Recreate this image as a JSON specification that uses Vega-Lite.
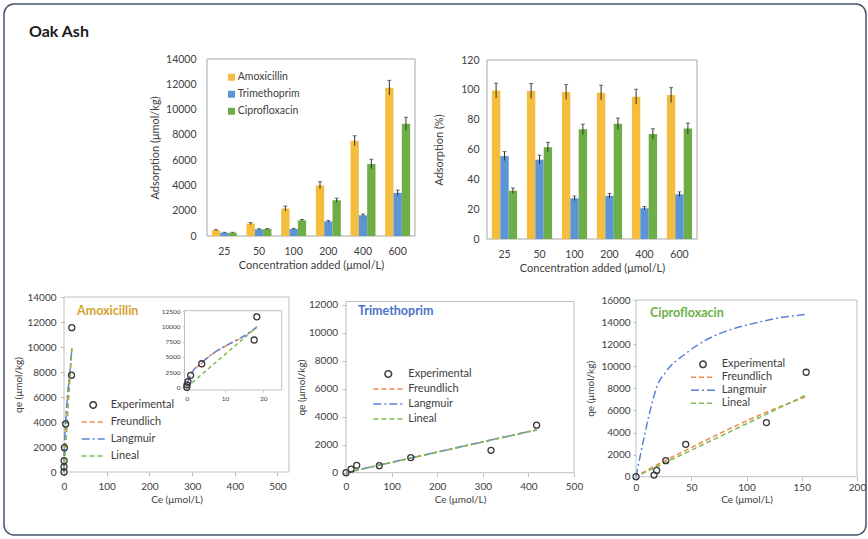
{
  "$schema": "https://vega.github.io/schema/vega-lite/v6.json",
  "width": 862,
  "height": 531,
  "autosize": "none",
  "padding": {"left": 4, "top": 4, "right": 2, "bottom": 4},
  "background": "white",
  "title": {"text": "Oak Ash", "anchor": "start", "frame": "group", "offset": -49, "dx": 25, "fontSize": 16, "fontWeight": "bold", "font": "Lato", "color": "#1a1a1a", "baseline": "alphabetic"},
  "config": {
    "font": "Lato",
    "view": {"stroke": "#46526e", "strokeWidth": 1.5, "cornerRadius": 10, "fill": "white"},
    "axis": {"labelColor": "#404040", "titleColor": "#404040", "labelFont": "Lato", "titleFont": "Lato", "titleFontWeight": "normal", "grid": false, "labelFlush": false, "labelOverlap": false, "labelBound": false, "tickColor": "#bfbfbf", "domain": false, "format": "d"},
    "legend": {"labelFont": "Lato", "labelColor": "#404040"},
    "text": {"font": "Lato"}
  },
  "datasets": {
    "abs": [
      {"cat": "25", "series": "Amoxicillin", "value": 450, "lo": 400, "hi": 500},
      {"cat": "25", "series": "Trimethoprim", "value": 260, "lo": 230, "hi": 290},
      {"cat": "25", "series": "Ciprofloxacin", "value": 260, "lo": 230, "hi": 290},
      {"cat": "50", "series": "Amoxicillin", "value": 980, "lo": 900, "hi": 1060},
      {"cat": "50", "series": "Trimethoprim", "value": 530, "lo": 490, "hi": 570},
      {"cat": "50", "series": "Ciprofloxacin", "value": 550, "lo": 510, "hi": 590},
      {"cat": "100", "series": "Amoxicillin", "value": 2170, "lo": 1970, "hi": 2370},
      {"cat": "100", "series": "Trimethoprim", "value": 550, "lo": 500, "hi": 600},
      {"cat": "100", "series": "Ciprofloxacin", "value": 1240, "lo": 1170, "hi": 1310},
      {"cat": "200", "series": "Amoxicillin", "value": 4010, "lo": 3730, "hi": 4290},
      {"cat": "200", "series": "Trimethoprim", "value": 1160, "lo": 1090, "hi": 1230},
      {"cat": "200", "series": "Ciprofloxacin", "value": 2830, "lo": 2670, "hi": 2990},
      {"cat": "400", "series": "Amoxicillin", "value": 7530, "lo": 7130, "hi": 7930},
      {"cat": "400", "series": "Trimethoprim", "value": 1640, "lo": 1540, "hi": 1740},
      {"cat": "400", "series": "Ciprofloxacin", "value": 5700, "lo": 5330, "hi": 6070},
      {"cat": "600", "series": "Amoxicillin", "value": 11730, "lo": 11150, "hi": 12310},
      {"cat": "600", "series": "Trimethoprim", "value": 3410, "lo": 3190, "hi": 3630},
      {"cat": "600", "series": "Ciprofloxacin", "value": 8870, "lo": 8350, "hi": 9390}
    ],
    "pct": [
      {"cat": "25", "series": "Amoxicillin", "value": 99.5, "lo": 94.5, "hi": 104.5},
      {"cat": "25", "series": "Trimethoprim", "value": 55.6, "lo": 52.6, "hi": 58.6},
      {"cat": "25", "series": "Ciprofloxacin", "value": 32.4, "lo": 30.6, "hi": 34.2},
      {"cat": "50", "series": "Amoxicillin", "value": 99.2, "lo": 94.2, "hi": 104.2},
      {"cat": "50", "series": "Trimethoprim", "value": 53.2, "lo": 50.2, "hi": 56.2},
      {"cat": "50", "series": "Ciprofloxacin", "value": 61.5, "lo": 58.2, "hi": 64.8},
      {"cat": "100", "series": "Amoxicillin", "value": 98.5, "lo": 93.5, "hi": 103.5},
      {"cat": "100", "series": "Trimethoprim", "value": 27.3, "lo": 25.8, "hi": 28.8},
      {"cat": "100", "series": "Ciprofloxacin", "value": 73.5, "lo": 70, "hi": 77},
      {"cat": "200", "series": "Amoxicillin", "value": 98.1, "lo": 93.1, "hi": 103.1},
      {"cat": "200", "series": "Trimethoprim", "value": 29, "lo": 27.4, "hi": 30.6},
      {"cat": "200", "series": "Ciprofloxacin", "value": 77.3, "lo": 73.5, "hi": 81.1},
      {"cat": "400", "series": "Amoxicillin", "value": 95.4, "lo": 90.4, "hi": 100.4},
      {"cat": "400", "series": "Trimethoprim", "value": 20.6, "lo": 19.5, "hi": 21.7},
      {"cat": "400", "series": "Ciprofloxacin", "value": 70.4, "lo": 66.9, "hi": 73.9},
      {"cat": "600", "series": "Amoxicillin", "value": 96.5, "lo": 91.5, "hi": 101.5},
      {"cat": "600", "series": "Trimethoprim", "value": 30, "lo": 28.4, "hi": 31.6},
      {"cat": "600", "series": "Ciprofloxacin", "value": 74, "lo": 70.3, "hi": 77.7}
    ],
    "amoxExp": [
      {"series": "Experimental", "Ce": 0, "qe": 0},
      {"series": "Experimental", "Ce": 0.05, "qe": 400},
      {"series": "Experimental", "Ce": 0.3, "qe": 900},
      {"series": "Experimental", "Ce": 1.0, "qe": 1950},
      {"series": "Experimental", "Ce": 3.9, "qe": 3850},
      {"series": "Experimental", "Ce": 17.6, "qe": 7750},
      {"series": "Experimental", "Ce": 18.3, "qe": 11550}
    ],
    "amoxFit": [
      {"series": "Freundlich", "Ce": 0, "qe": 0},
      {"series": "Freundlich", "Ce": 0.05, "qe": 420},
      {"series": "Freundlich", "Ce": 0.3, "qe": 950},
      {"series": "Freundlich", "Ce": 1.0, "qe": 1980},
      {"series": "Freundlich", "Ce": 3.9, "qe": 3950},
      {"series": "Freundlich", "Ce": 17.6, "qe": 9500},
      {"series": "Freundlich", "Ce": 18.3, "qe": 9850},
      {"series": "Langmuir", "Ce": 0, "qe": 0},
      {"series": "Langmuir", "Ce": 0.05, "qe": 300},
      {"series": "Langmuir", "Ce": 0.3, "qe": 900},
      {"series": "Langmuir", "Ce": 1.0, "qe": 2050},
      {"series": "Langmuir", "Ce": 3.9, "qe": 4000},
      {"series": "Langmuir", "Ce": 17.6, "qe": 9550},
      {"series": "Langmuir", "Ce": 18.3, "qe": 9900},
      {"series": "Lineal", "Ce": 0, "qe": 0},
      {"series": "Lineal", "Ce": 0.3, "qe": 160},
      {"series": "Lineal", "Ce": 1.0, "qe": 540},
      {"series": "Lineal", "Ce": 3.9, "qe": 2100},
      {"series": "Lineal", "Ce": 17.6, "qe": 9500},
      {"series": "Lineal", "Ce": 18.3, "qe": 9880}
    ],
    "trimExp": [
      {"series": "Experimental", "Ce": 0, "qe": 0},
      {"series": "Experimental", "Ce": 11.1, "qe": 250},
      {"series": "Experimental", "Ce": 23.5, "qe": 530},
      {"series": "Experimental", "Ce": 73, "qe": 500},
      {"series": "Experimental", "Ce": 142, "qe": 1080},
      {"series": "Experimental", "Ce": 318, "qe": 1600},
      {"series": "Experimental", "Ce": 418, "qe": 3400}
    ],
    "trimFit": [
      {"series": "Freundlich", "Ce": 0, "qe": 0},
      {"series": "Freundlich", "Ce": 11.1, "qe": 80},
      {"series": "Freundlich", "Ce": 23.5, "qe": 170},
      {"series": "Freundlich", "Ce": 73, "qe": 540},
      {"series": "Freundlich", "Ce": 142, "qe": 1050},
      {"series": "Freundlich", "Ce": 318, "qe": 2340},
      {"series": "Freundlich", "Ce": 418, "qe": 3070},
      {"series": "Langmuir", "Ce": 0, "qe": 0},
      {"series": "Langmuir", "Ce": 11.1, "qe": 85},
      {"series": "Langmuir", "Ce": 23.5, "qe": 178},
      {"series": "Langmuir", "Ce": 73, "qe": 545},
      {"series": "Langmuir", "Ce": 142, "qe": 1055},
      {"series": "Langmuir", "Ce": 318, "qe": 2345},
      {"series": "Langmuir", "Ce": 418, "qe": 3060},
      {"series": "Lineal", "Ce": 0, "qe": 0},
      {"series": "Lineal", "Ce": 11.1, "qe": 81},
      {"series": "Lineal", "Ce": 23.5, "qe": 172},
      {"series": "Lineal", "Ce": 73, "qe": 532},
      {"series": "Lineal", "Ce": 142, "qe": 1040},
      {"series": "Lineal", "Ce": 318, "qe": 2330},
      {"series": "Lineal", "Ce": 418, "qe": 3060}
    ],
    "cipExp": [
      {"series": "Experimental", "Ce": 0, "qe": 0},
      {"series": "Experimental", "Ce": 16.3, "qe": 150},
      {"series": "Experimental", "Ce": 18.7, "qe": 570},
      {"series": "Experimental", "Ce": 27, "qe": 1450},
      {"series": "Experimental", "Ce": 45, "qe": 2930},
      {"series": "Experimental", "Ce": 118, "qe": 4900},
      {"series": "Experimental", "Ce": 154, "qe": 9460}
    ],
    "cipFit": [
      {"series": "Freundlich", "Ce": 5, "qe": 310},
      {"series": "Freundlich", "Ce": 16.3, "qe": 930},
      {"series": "Freundlich", "Ce": 18.7, "qe": 1060},
      {"series": "Freundlich", "Ce": 27, "qe": 1490},
      {"series": "Freundlich", "Ce": 45, "qe": 2390},
      {"series": "Freundlich", "Ce": 118, "qe": 5840},
      {"series": "Freundlich", "Ce": 154, "qe": 7250},
      {"series": "Langmuir", "Ce": 0, "qe": 0},
      {"series": "Langmuir", "Ce": 16.3, "qe": 7300},
      {"series": "Langmuir", "Ce": 18.7, "qe": 8100},
      {"series": "Langmuir", "Ce": 27, "qe": 9500},
      {"series": "Langmuir", "Ce": 45, "qe": 11150},
      {"series": "Langmuir", "Ce": 118, "qe": 14150},
      {"series": "Langmuir", "Ce": 154, "qe": 14700},
      {"series": "Lineal", "Ce": 5, "qe": 240},
      {"series": "Lineal", "Ce": 16.3, "qe": 780},
      {"series": "Lineal", "Ce": 18.7, "qe": 900},
      {"series": "Lineal", "Ce": 27, "qe": 1300},
      {"series": "Lineal", "Ce": 45, "qe": 2160},
      {"series": "Lineal", "Ce": 118, "qe": 5660},
      {"series": "Lineal", "Ce": 154, "qe": 7400}
    ]
  },
  "layer": [
    {
      "data": {"values": [{}]},
      "mark": {"type": "rect", "fill": "transparent", "stroke": "#a6a6a6", "strokeWidth": 1},
      "encoding": {
        "x": {"datum": 0, "type": "quantitative", "scale": {"domain": [0, 1], "range": [203, 411]}, "axis": null},
        "x2": {"datum": 1},
        "y": {"datum": 0, "type": "quantitative", "scale": {"domain": [0, 1], "range": [232, 55]}, "axis": null},
        "y2": {"datum": 1}
      }
    },
    {
      "data": {"values": [{}]},
      "mark": {"type": "rect", "fill": "transparent", "stroke": "#a6a6a6", "strokeWidth": 1},
      "encoding": {
        "x": {"datum": 0, "type": "quantitative", "scale": {"domain": [0, 1], "range": [483, 693]}, "axis": null},
        "x2": {"datum": 1},
        "y": {"datum": 0, "type": "quantitative", "scale": {"domain": [0, 1], "range": [235, 56]}, "axis": null},
        "y2": {"datum": 1}
      }
    },
    {
      "data": {"values": [{}]},
      "mark": {"type": "rect", "fill": "transparent", "stroke": "#bfbfbf", "strokeWidth": 1},
      "encoding": {
        "x": {"datum": 0, "type": "quantitative", "scale": {"domain": [0, 1], "range": [60, 285]}, "axis": null},
        "x2": {"datum": 1},
        "y": {"datum": 0, "type": "quantitative", "scale": {"domain": [0, 1], "range": [468, 293]}, "axis": null},
        "y2": {"datum": 1}
      }
    },
    {
      "data": {"values": [{}]},
      "mark": {"type": "rect", "fill": "white", "stroke": "#bfbfbf", "strokeWidth": 1},
      "encoding": {
        "x": {"datum": 0, "type": "quantitative", "scale": {"domain": [0, 1], "range": [180.5, 277.7]}, "axis": null},
        "x2": {"datum": 1},
        "y": {"datum": 0, "type": "quantitative", "scale": {"domain": [0, 1], "range": [386, 306.7]}, "axis": null},
        "y2": {"datum": 1}
      }
    },
    {
      "data": {"values": [{}]},
      "mark": {"type": "rect", "fill": "transparent", "stroke": "#bfbfbf", "strokeWidth": 1},
      "encoding": {
        "x": {"datum": 0, "type": "quantitative", "scale": {"domain": [0, 1], "range": [342, 570]}, "axis": null},
        "x2": {"datum": 1},
        "y": {"datum": 0, "type": "quantitative", "scale": {"domain": [0, 1], "range": [468.7, 297.5]}, "axis": null},
        "y2": {"datum": 1}
      }
    },
    {
      "data": {"values": [{}]},
      "mark": {"type": "rect", "fill": "transparent", "stroke": "#bfbfbf", "strokeWidth": 1},
      "encoding": {
        "x": {"datum": 0, "type": "quantitative", "scale": {"domain": [0, 1], "range": [632, 853]}, "axis": null},
        "x2": {"datum": 1},
        "y": {"datum": 0, "type": "quantitative", "scale": {"domain": [0, 1], "range": [472.7, 296]}, "axis": null},
        "y2": {"datum": 1}
      }
    },
    {
      "data": {"values": [{"label": "Amoxicillin"}]},
      "mark": {"type": "text", "align": "left", "baseline": "middle", "fontSize": 12.5, "fontWeight": "bold", "color": "#D4A22E"},
      "encoding": {
        "x": {"datum": 30.5, "type": "quantitative", "scale": {"domain": [0, 527], "range": [60, 285]}, "axis": null},
        "y": {"datum": 12880, "type": "quantitative", "scale": {"domain": [0, 14000], "range": [468, 293]}, "axis": null},
        "text": {"field": "label"}
      }
    },
    {
      "data": {"values": [{"label": "Trimethoprim"}]},
      "mark": {"type": "text", "align": "left", "baseline": "middle", "fontSize": 12.5, "fontWeight": "bold", "color": "#4B73C9"},
      "encoding": {
        "x": {"datum": 26.3, "type": "quantitative", "scale": {"domain": [0, 500], "range": [342, 570]}, "axis": null},
        "y": {"datum": 11570, "type": "quantitative", "scale": {"domain": [0, 12250], "range": [468.7, 297.5]}, "axis": null},
        "text": {"field": "label"}
      }
    },
    {
      "data": {"values": [{"label": "Ciprofloxacin"}]},
      "mark": {"type": "text", "align": "left", "baseline": "middle", "fontSize": 12.5, "fontWeight": "bold", "color": "#6DAF48"},
      "encoding": {
        "x": {"datum": 12.7, "type": "quantitative", "scale": {"domain": [0, 200], "range": [632, 853]}, "axis": null},
        "y": {"datum": 14823, "type": "quantitative", "scale": {"domain": [0, 16000], "range": [472.7, 296]}, "axis": null},
        "text": {"field": "label"}
      }
    },
    {
      "data": {"name": "abs"},
      "encoding": {
        "x": {"field": "cat", "type": "nominal", "scale": {"domain": ["25", "50", "100", "200", "400", "600"], "range": [203, 411], "paddingInner": 0.28, "paddingOuter": 0.14},
          "axis": {"orient": "bottom", "offset": -299, "title": "Concentration added (μmol/L)", "ticks": false, "labelPadding": 10, "labelAngle": 0, "labelFontSize": 10.5, "titleFontSize": 11, "titlePadding": 3}},
        "xOffset": {"field": "series", "type": "nominal", "scale": {"domain": ["Amoxicillin", "Trimethoprim", "Ciprofloxacin"], "paddingInner": 0, "paddingOuter": 0}}
      },
      "layer": [
        {
          "mark": {"type": "bar"},
          "encoding": {
            "y": {"field": "value", "type": "quantitative", "scale": {"domain": [0, 14000], "range": [232, 55], "nice": false, "zero": false},
              "axis": {"orient": "left", "offset": -203, "values": [0, 2000, 4000, 6000, 8000, 10000, 12000, 14000], "title": "Adsorption (μmol/kg)", "ticks": false, "labelPadding": 11, "labelFontSize": 10.5, "titleFontSize": 11, "titlePadding": 5}},
            "color": {"field": "series", "type": "nominal", "scale": {"domain": ["Amoxicillin", "Trimethoprim", "Ciprofloxacin"], "range": ["#F5BD3D", "#5B95D6", "#6DAE46"]},
              "legend": {"orient": "none", "legendX": 222.25, "legendY": 64.8, "title": null, "symbolType": "square", "symbolSize": 49, "symbolStrokeWidth": 0, "clipHeight": 17, "rowPadding": 0, "labelOffset": 1, "labelFontSize": 10.5, "padding": 0}}
          }
        },
        {
          "mark": {"type": "rule", "color": "#333333", "strokeWidth": 1},
          "encoding": {"y": {"field": "lo", "type": "quantitative",
              "axis": {"orient": "left", "offset": -203, "values": [0, 2000, 4000, 6000, 8000, 10000, 12000, 14000], "title": "Adsorption (μmol/kg)", "ticks": false, "labelPadding": 11, "labelFontSize": 10.5, "titleFontSize": 11, "titlePadding": 5}},
            "y2": {"field": "hi"}}
        },
        {
          "mark": {"type": "tick", "color": "#333333", "size": 4, "thickness": 1},
          "encoding": {"y": {"field": "hi", "type": "quantitative",
              "axis": {"orient": "left", "offset": -203, "values": [0, 2000, 4000, 6000, 8000, 10000, 12000, 14000], "title": "Adsorption (μmol/kg)", "ticks": false, "labelPadding": 11, "labelFontSize": 10.5, "titleFontSize": 11, "titlePadding": 5}}}
        }
      ]
    },
    {
      "data": {"name": "pct"},
      "encoding": {
        "x": {"field": "cat", "type": "nominal", "scale": {"domain": ["25", "50", "100", "200", "400", "600"], "range": [483, 693], "paddingInner": 0.28, "paddingOuter": 0.14},
          "axis": {"orient": "bottom", "offset": -296, "title": "Concentration added (μmol/L)", "ticks": false, "labelPadding": 10, "labelAngle": 0, "labelFontSize": 10.5, "titleFontSize": 11, "titlePadding": 3}},
        "xOffset": {"field": "series", "type": "nominal", "scale": {"domain": ["Amoxicillin", "Trimethoprim", "Ciprofloxacin"], "paddingInner": 0, "paddingOuter": 0}}
      },
      "layer": [
        {
          "mark": {"type": "bar"},
          "encoding": {
            "y": {"field": "value", "type": "quantitative", "scale": {"domain": [0, 120], "range": [235, 56], "nice": false, "zero": false},
              "axis": {"orient": "left", "offset": -483, "values": [0, 20, 40, 60, 80, 100, 120], "title": "Adsorption (%)", "ticks": false, "labelPadding": 8, "labelFontSize": 10.5, "titleFontSize": 11, "titlePadding": 16}},
            "color": {"field": "series", "type": "nominal", "scale": {"domain": ["Amoxicillin", "Trimethoprim", "Ciprofloxacin"], "range": ["#F5BD3D", "#5B95D6", "#6DAE46"]}, "legend": null}
          }
        },
        {
          "mark": {"type": "rule", "color": "#333333", "strokeWidth": 1},
          "encoding": {"y": {"field": "lo", "type": "quantitative",
              "axis": {"orient": "left", "offset": -483, "values": [0, 20, 40, 60, 80, 100, 120], "title": "Adsorption (%)", "ticks": false, "labelPadding": 8, "labelFontSize": 10.5, "titleFontSize": 11, "titlePadding": 16}},
            "y2": {"field": "hi"}}
        },
        {
          "mark": {"type": "tick", "color": "#333333", "size": 4, "thickness": 1},
          "encoding": {"y": {"field": "hi", "type": "quantitative",
              "axis": {"orient": "left", "offset": -483, "values": [0, 20, 40, 60, 80, 100, 120], "title": "Adsorption (%)", "ticks": false, "labelPadding": 8, "labelFontSize": 10.5, "titleFontSize": 11, "titlePadding": 16}}}
        }
      ]
    },
    {
      "encoding": {
        "x": {"field": "Ce", "type": "quantitative", "scale": {"domain": [0, 527], "range": [60, 285], "nice": false, "zero": false},
          "axis": {"orient": "bottom", "offset": -63, "values": [0, 100, 200, 300, 400, 500], "title": "Ce (μmol/L)", "tickSize": 4, "labelPadding": 5, "labelFontSize": 10, "titleFontSize": 10, "titlePadding": 3}},
        "y": {"field": "qe", "type": "quantitative", "scale": {"domain": [0, 14000], "range": [468, 293], "nice": false, "zero": false},
          "axis": {"orient": "left", "offset": -60, "values": [0, 2000, 4000, 6000, 8000, 10000, 12000, 14000], "title": "qe (μmol/kg)", "tickSize": 4, "labelPadding": 4, "labelFontSize": 10, "titleFontSize": 10, "titlePadding": 3}}
      },
      "layer": [
        {
          "data": {"name": "amoxFit"},
          "mark": {"type": "line", "strokeWidth": 1.5, "interpolate": "monotone"},
          "encoding": {
            "color": {"field": "series", "type": "nominal", "scale": {"domain": ["Experimental", "Freundlich", "Langmuir", "Lineal"], "range": ["#3a3a3a", "#F08C4A", "#5B84D6", "#7DBB52"]},
              "legend": {"orient": "none", "legendX": 76.7, "legendY": 392.6, "title": null, "symbolSize": 529, "symbolStrokeWidth": 1.5, "clipHeight": 16.7, "rowPadding": 0, "labelOffset": 5, "labelFontSize": 11, "padding": 0,
                "encode": {"symbols": {"update": {
                  "shape": {"signal": "datum.value === 'Experimental' ? 'M0.28,0A0.28,0.28,0,1,1,-0.28,0A0.28,0.28,0,1,1,0.28,0Z' : 'M-1,0L1,0'"},
                  "strokeDash": {"signal": "datum.value === 'Langmuir' ? [8,3,2,3] : datum.value === 'Experimental' ? [1,0] : [5,3]"},
                  "fill": {"value": "transparent"},
                  "stroke": {"signal": "datum.value === 'Experimental' ? '#3a3a3a' : datum.value === 'Freundlich' ? '#F08C4A' : datum.value === 'Langmuir' ? '#5B84D6' : '#7DBB52'"},
                  "strokeWidth": {"value": 1.5}}}}}},
            "strokeDash": {"field": "series", "type": "nominal", "scale": {"domain": ["Freundlich", "Langmuir", "Lineal"], "range": [[5, 3], [8, 3, 2, 3], [5, 3]]}, "legend": null}
          }
        },
        {
          "data": {"name": "amoxExp"},
          "mark": {"type": "point", "filled": false, "size": 36, "strokeWidth": 1.3, "opacity": 1},
          "encoding": {"color": {"field": "series", "type": "nominal", "scale": {"domain": ["Experimental", "Freundlich", "Langmuir", "Lineal"], "range": ["#3a3a3a", "#F08C4A", "#5B84D6", "#7DBB52"]}}}
        }
      ]
    },
    {
      "encoding": {
        "x": {"field": "Ce", "type": "quantitative", "scale": {"domain": [-0.6, 24.8], "range": [180.5, 277.7], "nice": false, "zero": false},
          "axis": {"orient": "bottom", "offset": -145, "values": [0, 10, 20], "title": null, "tickSize": 2, "labelPadding": 3, "labelFontSize": 6.5}},
        "y": {"field": "qe", "type": "quantitative", "scale": {"domain": [-450, 12550], "range": [386, 306.7], "nice": false, "zero": false},
          "axis": {"orient": "left", "offset": -180.5, "values": [0, 2500, 5000, 7500, 10000, 12500], "title": null, "tickSize": 2, "labelPadding": 2.5, "labelFontSize": 6.5}}
      },
      "layer": [
        {
          "data": {"name": "amoxFit"},
          "mark": {"type": "line", "strokeWidth": 1.5, "interpolate": "monotone"},
          "encoding": {
            "color": {"field": "series", "type": "nominal", "scale": {"domain": ["Experimental", "Freundlich", "Langmuir", "Lineal"], "range": ["#3a3a3a", "#F08C4A", "#5B84D6", "#7DBB52"]}, "legend": null},
            "strokeDash": {"field": "series", "type": "nominal", "scale": {"domain": ["Freundlich", "Langmuir", "Lineal"], "range": [[4, 3], [7, 3, 2, 3], [4, 3]]}, "legend": null}
          }
        },
        {
          "data": {"name": "amoxExp"},
          "mark": {"type": "point", "filled": false, "size": 36, "strokeWidth": 1.3, "opacity": 1},
          "encoding": {"color": {"field": "series", "type": "nominal", "scale": {"domain": ["Experimental", "Freundlich", "Langmuir", "Lineal"], "range": ["#3a3a3a", "#F08C4A", "#5B84D6", "#7DBB52"]}, "legend": null}}
        }
      ]
    },
    {
      "encoding": {
        "x": {"field": "Ce", "type": "quantitative", "scale": {"domain": [0, 500], "range": [342, 570], "nice": false, "zero": false},
          "axis": {"orient": "bottom", "offset": -62.3, "values": [0, 100, 200, 300, 400, 500], "title": "Ce (μmol/L)", "tickSize": 4, "labelPadding": 5, "labelFontSize": 10, "titleFontSize": 10, "titlePadding": 3}},
        "y": {"field": "qe", "type": "quantitative", "scale": {"domain": [0, 12250], "range": [468.7, 297.5], "nice": false, "zero": false},
          "axis": {"orient": "left", "offset": -342, "values": [0, 2000, 4000, 6000, 8000, 10000, 12000], "title": "qe (μmol/kg)", "tickSize": 4, "labelPadding": 4.5, "labelFontSize": 10, "titleFontSize": 10, "titlePadding": 2}}
      },
      "layer": [
        {
          "data": {"name": "trimFit"},
          "mark": {"type": "line", "strokeWidth": 1.5, "interpolate": "monotone"},
          "encoding": {
            "color": {"field": "series", "type": "nominal", "scale": {"domain": ["Experimental", "Freundlich", "Langmuir", "Lineal"], "range": ["#3a3a3a", "#F08C4A", "#5B84D6", "#7DBB52"]},
              "legend": {"orient": "none", "legendX": 368.3, "legendY": 362.8, "title": null, "symbolSize": 900, "symbolStrokeWidth": 1.5, "clipHeight": 14.4, "rowPadding": 0, "labelOffset": 4, "labelFontSize": 11, "padding": 0,
                "encode": {"symbols": {"update": {
                  "shape": {"signal": "datum.value === 'Experimental' ? 'M0.22,0A0.22,0.22,0,1,1,-0.22,0A0.22,0.22,0,1,1,0.22,0Z' : 'M-1,0L1,0'"},
                  "strokeDash": {"signal": "datum.value === 'Langmuir' ? [8,3,2,3] : datum.value === 'Experimental' ? [1,0] : [5,3]"},
                  "fill": {"value": "transparent"},
                  "stroke": {"signal": "datum.value === 'Experimental' ? '#3a3a3a' : datum.value === 'Freundlich' ? '#F08C4A' : datum.value === 'Langmuir' ? '#5B84D6' : '#7DBB52'"},
                  "strokeWidth": {"value": 1.5}}}}}},
            "strokeDash": {"field": "series", "type": "nominal", "scale": {"domain": ["Freundlich", "Langmuir", "Lineal"], "range": [[5, 3], [8, 3, 2, 3], [5, 3]]}, "legend": null}
          }
        },
        {
          "data": {"name": "trimExp"},
          "mark": {"type": "point", "filled": false, "size": 36, "strokeWidth": 1.3, "opacity": 1},
          "encoding": {"color": {"field": "series", "type": "nominal", "scale": {"domain": ["Experimental", "Freundlich", "Langmuir", "Lineal"], "range": ["#3a3a3a", "#F08C4A", "#5B84D6", "#7DBB52"]}}}
        }
      ]
    },
    {
      "encoding": {
        "x": {"field": "Ce", "type": "quantitative", "scale": {"domain": [0, 200], "range": [632, 853], "nice": false, "zero": false},
          "axis": {"orient": "bottom", "offset": -58.3, "values": [0, 50, 100, 150, 200], "title": "Ce (μmol/L)", "tickSize": 4, "labelPadding": 2, "labelFontSize": 10, "titleFontSize": 10, "titlePadding": 2}},
        "y": {"field": "qe", "type": "quantitative", "scale": {"domain": [0, 16000], "range": [472.7, 296], "nice": false, "zero": false},
          "axis": {"orient": "left", "offset": -632, "values": [0, 2000, 4000, 6000, 8000, 10000, 12000, 14000, 16000], "title": "qe (μmol/kg)", "tickSize": 3, "labelPadding": 3, "labelFontSize": 10, "titleFontSize": 10, "titlePadding": 5}}
      },
      "layer": [
        {
          "data": {"name": "cipFit"},
          "mark": {"type": "line", "strokeWidth": 1.5, "interpolate": "monotone"},
          "encoding": {
            "color": {"field": "series", "type": "nominal", "scale": {"domain": ["Experimental", "Freundlich", "Langmuir", "Lineal"], "range": ["#3a3a3a", "#F08C4A", "#5B84D6", "#7DBB52"]},
              "legend": {"orient": "none", "legendX": 686, "legendY": 354.2, "title": null, "symbolSize": 576, "symbolStrokeWidth": 1.5, "clipHeight": 12.3, "rowPadding": 0, "labelOffset": 5.7, "labelFontSize": 11, "padding": 0,
                "encode": {"symbols": {"update": {
                  "shape": {"signal": "datum.value === 'Experimental' ? 'M0.27,0A0.27,0.27,0,1,1,-0.27,0A0.27,0.27,0,1,1,0.27,0Z' : 'M-1,0L1,0'"},
                  "strokeDash": {"signal": "datum.value === 'Langmuir' ? [8,3,2,3] : datum.value === 'Experimental' ? [1,0] : [5,3]"},
                  "fill": {"value": "transparent"},
                  "stroke": {"signal": "datum.value === 'Experimental' ? '#3a3a3a' : datum.value === 'Freundlich' ? '#F08C4A' : datum.value === 'Langmuir' ? '#5B84D6' : '#7DBB52'"},
                  "strokeWidth": {"value": 1.5}}}}}},
            "strokeDash": {"field": "series", "type": "nominal", "scale": {"domain": ["Freundlich", "Langmuir", "Lineal"], "range": [[5, 3], [8, 3, 2, 3], [5, 3]]}, "legend": null}
          }
        },
        {
          "data": {"name": "cipExp"},
          "mark": {"type": "point", "filled": false, "size": 36, "strokeWidth": 1.3, "opacity": 1},
          "encoding": {"color": {"field": "series", "type": "nominal", "scale": {"domain": ["Experimental", "Freundlich", "Langmuir", "Lineal"], "range": ["#3a3a3a", "#F08C4A", "#5B84D6", "#7DBB52"]}}}
        }
      ]
    }
  ],
  "resolve": {
    "scale": {"x": "independent", "y": "independent", "color": "independent", "strokeDash": "independent", "xOffset": "independent"},
    "axis": {"x": "independent", "y": "independent"},
    "legend": {"color": "independent"}
  }
}
